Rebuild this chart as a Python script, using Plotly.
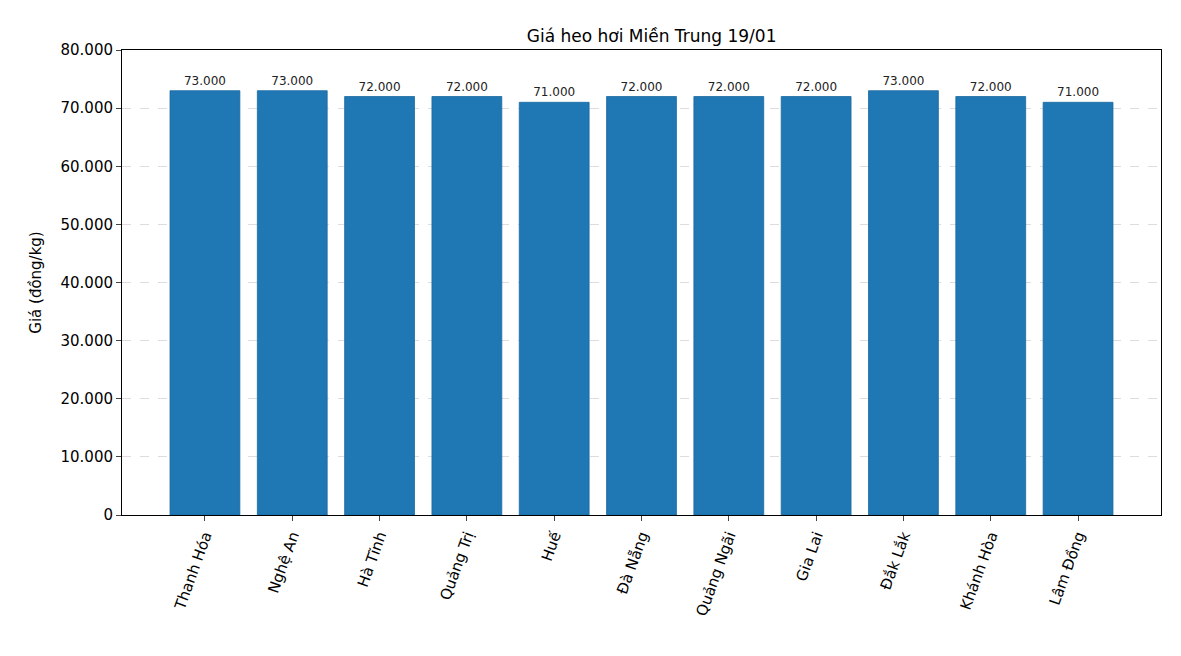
import plotly.graph_objects as go

provinces = ["Thanh Hóa", "Nghệ An", "Hà Tĩnh", "Quảng Trị", "Huế", "Đà Nẵng",
             "Quảng Ngãi", "Gia Lai", "Đắk Lắk", "Khánh Hòa", "Lâm Đồng"]
prices = [73000, 73000, 72000, 72000, 71000, 72000, 72000, 72000, 73000, 72000, 71000]
ytick_vals = [0, 10000, 20000, 30000, 40000, 50000, 60000, 70000, 80000]
ytick_text = ["0", "10.000", "20.000", "30.000", "40.000", "50.000", "60.000", "70.000", "80.000"]

def fmt(v):
    return f"{v:,}".replace(",", ".")

fig = go.Figure(go.Bar(
    x=list(range(len(provinces))), y=prices, width=0.8,
    marker=dict(color="#1f77b4", line=dict(color="#1a6aa0", width=0.8)),
    text=[fmt(v) for v in prices], textposition="outside",
    textfont=dict(size=12, color="#222"), cliponaxis=False,
))
fig.update_layout(
    width=1181, height=656, plot_bgcolor="white", paper_bgcolor="white",
    font=dict(family="DejaVu Sans", size=14, color="black"),
    title=dict(text="Giá heo hơi Miền Trung 19/01", x=0.545, xanchor="center", y=0.967, font=dict(size=17)),
    margin=dict(l=114, r=28, t=42, b=149),
    showlegend=False,
)
fig.update_xaxes(range=[-0.95, 10.95], tickvals=list(range(len(provinces))), ticktext=provinces,
                 tickangle=-70, showline=True, linecolor="black", mirror=True,
                 ticks="outside", ticklen=5, showgrid=False, tickfont=dict(size=15))
fig.update_yaxes(range=[0, 80000], tickvals=ytick_vals, ticktext=ytick_text,
                 showline=True, linecolor="black", mirror=True, ticks="outside", ticklen=5,
                 showgrid=True, gridcolor="#dddddd", griddash="dash", zeroline=False,
                 title=dict(text="Giá (đồng/kg)", font=dict(size=15)), tickfont=dict(size=15))
fig.write_html("out.html")
